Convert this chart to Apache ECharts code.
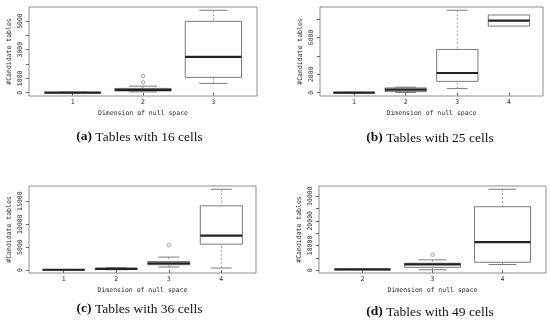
<!DOCTYPE html>
<html>
<head>
<meta charset="utf-8">
<script src="https://cdn.jsdelivr.net/npm/echarts@6/dist/echarts.min.js"></script>
<style>html,body{margin:0;padding:0;background:#fff}#c{width:550px;height:329px}</style>
</head>
<body>
<div id="c"></div>
<script>
// ---- Data (box stats: [lower whisker, Q1, median, Q3, upper whisker]) ----
const catsA = ['1', '2', '3'];
const boxA = [
  [0, 5, 10, 20, 40],
  [60, 120, 200, 300, 460],
  [650, 1070, 2500, 4980, 5750]
];
const outA = [[1, 720], [1, 1160]];          // [category index, value]
const yTicksA = [0, 1000, 2000, 3000, 4000, 5000];
const yLabelsA = [0, 1000, 3000, 5000];

const catsB = ['1', '2', '3', '4'];
const boxB = [
  [0, 5, 10, 20, 40],
  [30, 120, 330, 520, 600],
  [440, 1230, 2140, 4690, 8940],
  [7230, 7230, 7810, 8430, 8430]
];
const outB = [];
const yTicksB = [0, 2000, 4000, 6000, 8000];
const yLabelsB = [0, 2000, 6000];

const catsC = ['1', '2', '3', '4'];
const boxC = [
  [50, 55, 60, 70, 90],
  [60, 120, 250, 380, 500],
  [650, 1150, 1430, 1860, 2810],
  [430, 5630, 7490, 13980, 17600]
];
const outC = [[2, 5410]];
const yTicksC = [0, 5000, 10000, 15000];
const yLabelsC = [0, 5000, 10000, 15000];

const catsD = ['2', '3', '4'];
const boxD = [
  [260, 280, 300, 330, 400],
  [160, 1150, 2350, 2800, 4180],
  [2290, 3210, 11400, 25700, 32800]
];
const outD = [[1, 6300]];
const yTicksD = [0, 5000, 10000, 15000, 20000, 25000, 30000];
const yLabelsD = [0, 10000, 20000, 30000];

const captions = [
  ['(a)', 'Tables with 16 cells'],
  ['(b)', 'Tables with 25 cells'],
  ['(c)', 'Tables with 36 cells'],
  ['(d)', 'Tables with 49 cells']
];

// ---- Layout ----
const panels = [
  {cats: catsA, box: boxA, out: outA, ticks: yTicksA, labels: yLabelsA, grid: {left: 29, top: 7, width: 228, height: 89}, cap: [139.5, 137]},
  {cats: catsB, box: boxB, out: outB, ticks: yTicksB, labels: yLabelsB, grid: {left: 320, top: 7, width: 223, height: 89}, cap: [430, 138]},
  {cats: catsC, box: boxC, out: outC, ticks: yTicksC, labels: yLabelsC, grid: {left: 29, top: 186, width: 227, height: 87}, cap: [139.5, 309]},
  {cats: catsD, box: boxD, out: outD, ticks: yTicksD, labels: yLabelsD, grid: {left: 319, top: 186, width: 227, height: 87}, cap: [430, 312]}
];

const FONT = 'DejaVu Sans Mono';
const TXT = '#2a2a2a';
const BOXC = '#7a7a7a';

function renderBox(params, api) {
  const x = api.value(0);
  const lo = api.value(1), q1 = api.value(2), md = api.value(3), q3 = api.value(4), hi = api.value(5);
  const hw = 0.4, cw = 0.2;
  const tl = api.coord([x - hw, q3]);
  const br = api.coord([x + hw, q1]);
  const mL = api.coord([x - hw, md]);
  const mR = api.coord([x + hw, md]);
  const cTop = api.coord([x, hi]);
  const cQ3 = api.coord([x, q3]);
  const cQ1 = api.coord([x, q1]);
  const cLo = api.coord([x, lo]);
  const capHiL = api.coord([x - cw, hi]), capHiR = api.coord([x + cw, hi]);
  const capLoL = api.coord([x - cw, lo]), capLoR = api.coord([x + cw, lo]);
  const children = [];
  if (hi > q3) {
    children.push({type: 'line', shape: {x1: cTop[0], y1: cTop[1], x2: cQ3[0], y2: cQ3[1]}, style: {stroke: '#999', lineWidth: 1, lineDash: [2, 2]}});
    children.push({type: 'line', shape: {x1: capHiL[0], y1: capHiL[1], x2: capHiR[0], y2: capHiR[1]}, style: {stroke: BOXC, lineWidth: 1}});
  }
  if (lo < q1) {
    children.push({type: 'line', shape: {x1: cLo[0], y1: cLo[1], x2: cQ1[0], y2: cQ1[1]}, style: {stroke: '#999', lineWidth: 1, lineDash: [2, 2]}});
    children.push({type: 'line', shape: {x1: capLoL[0], y1: capLoL[1], x2: capLoR[0], y2: capLoR[1]}, style: {stroke: BOXC, lineWidth: 1}});
  }
  children.push({type: 'rect', shape: {x: tl[0], y: tl[1], width: br[0] - tl[0], height: Math.max(br[1] - tl[1], 0.5)}, style: {stroke: BOXC, fill: 'none', lineWidth: 1}});
  children.push({type: 'line', shape: {x1: mL[0], y1: mL[1], x2: mR[0], y2: mR[1]}, style: {stroke: '#222', lineWidth: 2.2}});
  return {type: 'group', children: children};
}

const grid = [], xAxis = [], yAxis = [], series = [], graphic = [];
panels.forEach((p, i) => {
  const n = p.cats.length;
  const allVals = [];
  p.box.forEach(b => b.forEach(v => allVals.push(v)));
  p.out.forEach(o => allVals.push(o[1]));
  const dMin = Math.min.apply(null, allVals), dMax = Math.max.apply(null, allVals);
  const ext = (dMax - dMin) * 0.04;
  grid.push(Object.assign({show: true, borderColor: '#8c8c8c', borderWidth: 1, backgroundColor: 'transparent'}, p.grid));
  xAxis.push({
    type: 'value', gridIndex: i, min: 0.5 - 0.04 * n, max: n + 0.5 + 0.04 * n,
    splitLine: {show: false}, axisLine: {show: false},
    axisTick: {show: true, length: 3, customValues: p.cats.map((c, k) => k + 1), lineStyle: {color: '#666'}},
    axisLabel: {show: true, customValues: p.cats.map((c, k) => k + 1), formatter: v => p.cats[Math.round(v) - 1], fontFamily: FONT, fontSize: 6.5, color: TXT, margin: 3, hideOverlap: false},
    name: 'Dimension of null space', nameLocation: 'middle', nameGap: 14,
    nameTextStyle: {fontFamily: FONT, fontSize: 6.5, color: TXT}
  });
  yAxis.push({
    type: 'value', gridIndex: i, min: dMin - ext, max: dMax + ext,
    splitLine: {show: false}, axisLine: {show: false},
    axisTick: {show: true, length: 3, customValues: p.ticks, lineStyle: {color: '#666'}},
    axisLabel: {show: true, customValues: p.labels, formatter: v => String(v), rotate: 90, fontFamily: FONT, fontSize: 6.5, color: TXT, margin: 5, hideOverlap: false, showMinLabel: true, showMaxLabel: true},
    name: '#Candidate tables', nameLocation: 'middle', nameGap: 16,
    nameTextStyle: {fontFamily: FONT, fontSize: 6.5, color: TXT}
  });
  series.push({
    type: 'custom', xAxisIndex: i, yAxisIndex: i, renderItem: renderBox,
    encode: {x: 0, y: [1, 2, 3, 4, 5]},
    data: p.box.map((b, k) => [k + 1].concat(b)), silent: true, clip: false
  });
  series.push({
    type: 'scatter', xAxisIndex: i, yAxisIndex: i, symbol: 'circle', symbolSize: 3.5,
    itemStyle: {color: '#ffffff', borderColor: '#707070', borderWidth: 0.8},
    data: p.out.map(o => [o[0] + 1, o[1]]), silent: true, z: 5
  });
  graphic.push({
    type: 'text', x: p.cap[0], y: p.cap[1],
    style: {
      text: '{b|' + captions[i][0] + '} ' + captions[i][1],
      align: 'center', verticalAlign: 'middle',
      fontFamily: 'Liberation Serif', fontSize: 13.5, fill: '#111',
      rich: {b: {fontFamily: 'Liberation Serif', fontSize: 13.5, fontWeight: 'bold', color: '#111'}}
    }
  });
});

const chart = echarts.init(document.getElementById('c'), null, {renderer: 'canvas'});
chart.setOption({animation: false, backgroundColor: '#fff', grid, xAxis, yAxis, series, graphic});
</script>
</body>
</html>
